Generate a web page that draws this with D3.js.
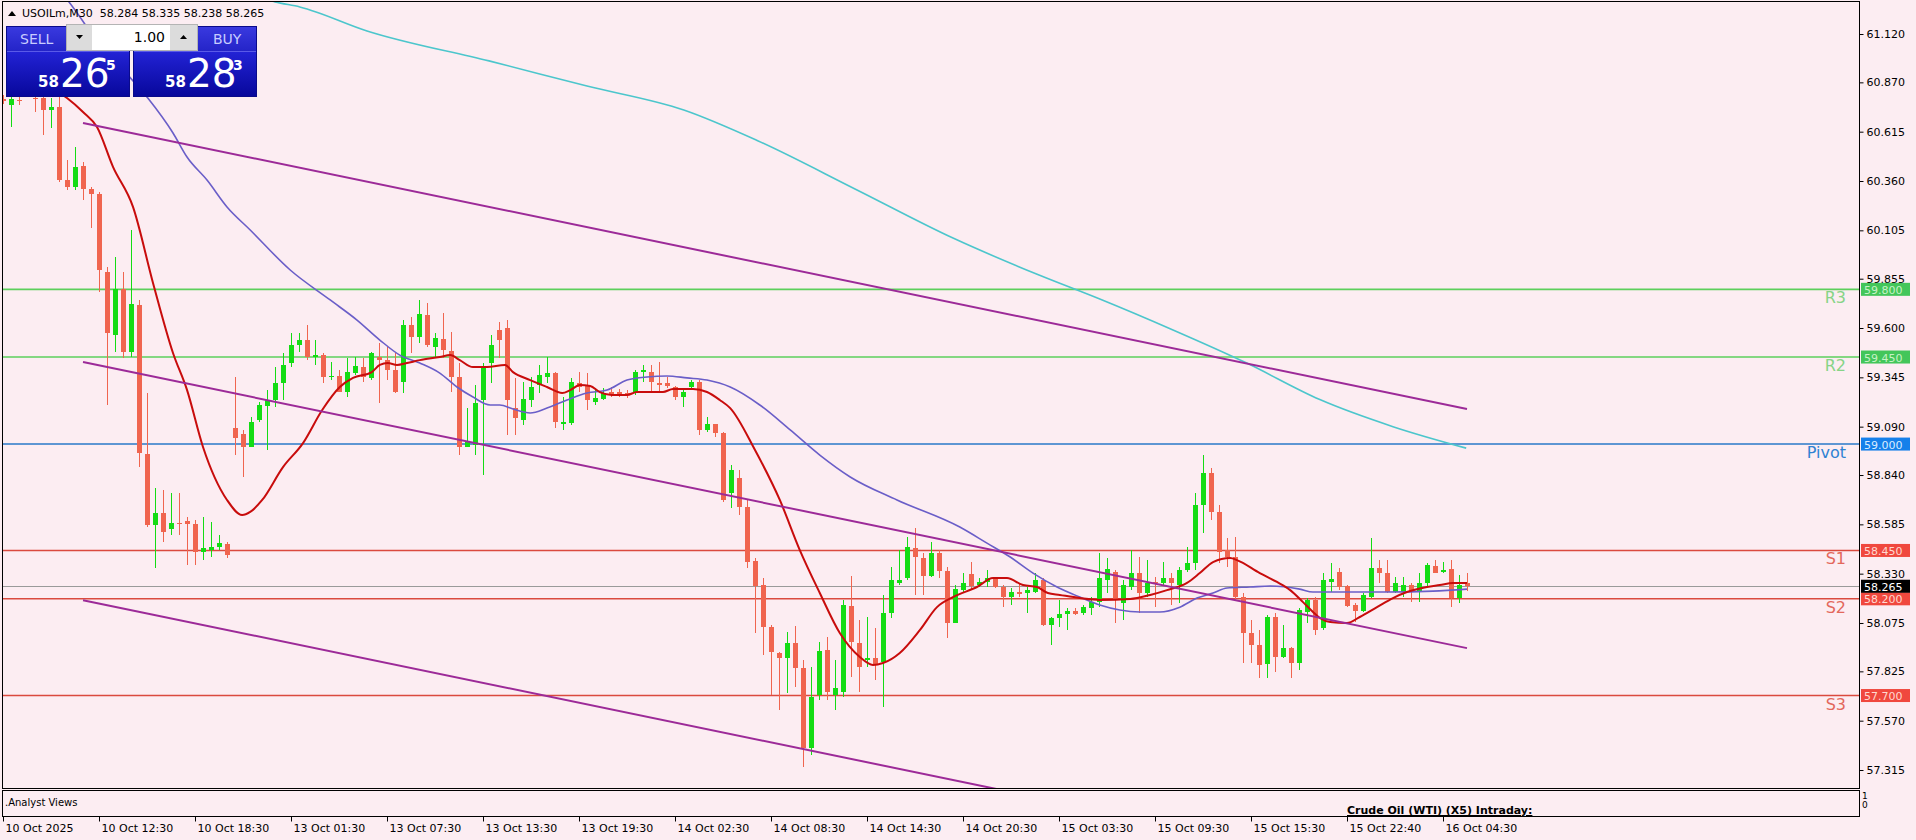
<!DOCTYPE html>
<html><head><meta charset="utf-8">
<script src="https://cdn.jsdelivr.net/npm/d3@7"></script>
<style>
html,body{margin:0;padding:0;background:#fcedf2;overflow:hidden}
svg{display:block}
text{font-family:"DejaVu Sans",sans-serif}
</style></head><body>
<svg id="c" width="1916" height="840"></svg>
<script>
// ---------- DATA ----------
const symbolTitle = "USOILm,M30";
const lastOHLC = ["58.284", "58.335", "58.238", "58.265"];
const opens = [60.784,60.753,60.780,60.810,60.790,60.789,60.727,60.743,60.365,60.329,60.438,60.319,60.293,59.890,59.564,59.802,59.476,59.719,58.949,58.581,
58.644,58.561,58.592,58.602,58.587,58.442,58.452,58.468,58.483,59.083,59.052,58.985,59.124,59.197,59.228,59.316,59.419,59.512,59.538,59.455,
59.460,59.347,59.352,59.269,59.367,59.398,59.342,59.450,59.435,59.383,59.321,59.615,59.553,59.667,59.502,59.543,59.481,59.347,58.985,58.995,
59.228,59.419,59.590,59.600,59.187,59.124,59.228,59.305,59.347,59.367,59.109,59.109,59.316,59.305,59.217,59.233,59.269,59.269,59.264,59.264,
59.372,59.372,59.316,59.316,59.295,59.243,59.295,59.321,59.073,59.104,59.057,58.747,58.825,58.674,58.395,58.271,58.054,57.920,57.894,57.971,
57.842,57.428,57.702,57.935,57.702,57.718,58.163,57.971,57.883,57.894,57.873,58.126,58.282,58.307,58.462,58.411,58.318,58.437,58.344,58.075,
58.245,58.328,58.271,58.287,58.302,58.261,58.209,58.235,58.230,58.235,58.297,58.064,58.101,58.121,58.137,58.126,58.152,58.183,58.297,58.338,
58.178,58.261,58.333,58.230,58.287,58.282,58.307,58.271,58.349,58.385,58.685,58.850,58.649,58.452,58.416,58.209,58.023,57.961,57.863,58.106,
57.899,57.945,57.868,58.132,58.194,58.049,58.287,58.338,58.266,58.168,58.137,58.209,58.359,58.333,58.235,58.235,58.271,58.235,58.282,58.369,
58.338,58.354,58.204,58.284];
const highs = [60.805,60.810,60.795,60.870,60.795,60.805,60.789,60.795,60.469,60.536,60.458,60.329,60.303,59.915,59.967,59.890,60.107,59.745,59.264,58.773,
58.762,58.747,58.747,58.623,58.607,58.623,58.597,58.530,58.494,59.347,59.073,59.140,59.217,59.279,59.398,59.471,59.574,59.574,59.615,59.538,
59.471,59.424,59.383,59.445,59.450,59.445,59.476,59.522,59.502,59.471,59.641,59.657,59.745,59.729,59.574,59.678,59.579,59.419,59.186,59.305,
59.419,59.564,59.631,59.641,59.342,59.321,59.347,59.409,59.450,59.372,59.243,59.342,59.372,59.367,59.290,59.290,59.295,59.285,59.279,59.383,
59.409,59.409,59.424,59.347,59.300,59.279,59.331,59.331,59.140,59.104,59.062,58.892,58.866,58.711,58.411,58.307,58.064,57.925,58.028,58.059,
57.883,57.847,57.977,58.002,57.883,58.194,58.318,58.090,58.106,58.049,58.219,58.364,58.452,58.519,58.566,58.437,58.494,58.452,58.364,58.271,
58.333,58.390,58.307,58.349,58.313,58.271,58.256,58.282,58.261,58.333,58.307,58.106,58.194,58.152,58.152,58.168,58.209,58.437,58.411,58.349,
58.297,58.452,58.416,58.400,58.313,58.390,58.333,58.364,58.468,58.747,58.943,58.876,58.685,58.514,58.519,58.230,58.090,58.038,58.116,58.126,
58.064,57.951,58.152,58.204,58.209,58.333,58.385,58.359,58.271,58.178,58.230,58.514,58.400,58.400,58.313,58.313,58.282,58.333,58.385,58.400,
58.390,58.400,58.323,58.335];
const lows = [60.758,60.639,60.753,60.800,60.717,60.598,60.634,60.355,60.314,60.314,60.262,60.117,59.786,59.202,59.476,59.445,59.450,58.881,58.571,58.359,
58.494,58.530,58.530,58.375,58.375,58.400,58.416,58.452,58.411,58.943,58.830,58.985,59.114,58.969,59.192,59.228,59.398,59.476,59.434,59.409,
59.316,59.331,59.269,59.243,59.357,59.321,59.331,59.212,59.331,59.264,59.264,59.471,59.522,59.502,59.445,59.445,59.269,58.943,58.985,58.943,
58.840,59.316,59.445,59.047,59.047,59.099,59.192,59.264,59.316,59.083,59.073,59.099,59.269,59.176,59.202,59.228,59.243,59.243,59.238,59.254,
59.321,59.269,59.269,59.290,59.228,59.192,59.290,59.047,59.062,59.036,58.700,58.669,58.633,58.359,58.023,57.909,57.702,57.625,57.713,57.744,
57.330,57.392,57.677,57.677,57.625,57.692,57.796,57.718,57.847,57.780,57.640,58.101,58.271,58.297,58.220,58.220,58.312,58.307,57.997,58.075,
58.235,58.245,58.261,58.261,58.256,58.157,58.168,58.209,58.127,58.230,58.059,57.961,58.054,58.038,58.116,58.116,58.116,58.157,58.230,58.075,
58.090,58.245,58.127,58.209,58.157,58.271,58.168,58.178,58.338,58.349,58.540,58.607,58.385,58.364,58.194,57.868,57.868,57.790,57.790,57.821,
57.894,57.790,57.832,58.075,58.013,58.038,58.235,58.245,58.157,58.080,58.132,58.204,58.282,58.230,58.230,58.209,58.183,58.183,58.261,58.333,
58.333,58.157,58.178,58.238];
const closes = [60.774,60.784,60.776,60.850,60.785,60.727,60.743,60.365,60.329,60.433,60.319,60.293,59.900,59.574,59.802,59.476,59.724,58.954,58.581,58.644,
58.545,58.592,58.587,58.587,58.442,58.462,58.468,58.488,58.426,59.031,58.985,59.114,59.202,59.228,59.316,59.409,59.512,59.538,59.450,59.460,
59.347,59.352,59.269,59.372,59.403,59.347,59.471,59.435,59.383,59.269,59.615,59.553,59.672,59.512,59.548,59.486,59.347,58.985,59.011,59.212,
59.393,59.512,59.538,59.228,59.135,59.233,59.295,59.357,59.367,59.114,59.114,59.321,59.295,59.228,59.238,59.264,59.264,59.264,59.261,59.372,
59.383,59.321,59.305,59.300,59.243,59.269,59.321,59.073,59.104,59.057,58.711,58.866,58.674,58.390,58.266,58.054,57.925,57.894,57.971,57.842,
57.428,57.692,57.930,57.718,57.739,58.168,57.977,57.847,57.894,57.858,58.126,58.297,58.297,58.468,58.416,58.318,58.437,58.344,58.075,58.250,
58.282,58.266,58.287,58.307,58.261,58.209,58.235,58.230,58.245,58.297,58.064,58.101,58.121,58.137,58.121,58.157,58.183,58.307,58.354,58.194,
58.271,58.333,58.230,58.282,58.282,58.307,58.282,58.349,58.385,58.685,58.850,58.649,58.442,58.416,58.209,58.023,57.961,57.858,58.106,57.899,
57.945,57.868,58.142,58.194,58.038,58.297,58.302,58.261,58.163,58.137,58.220,58.359,58.333,58.235,58.282,58.271,58.235,58.282,58.375,58.333,
58.349,58.204,58.271,58.265];

const priceTicks = [61.120,60.870,60.615,60.360,60.105,59.855,59.600,59.345,59.090,58.840,58.585,58.330,58.075,57.825,57.570,57.315];
const timeTickBars = [0,12,24,36,48,60,72,84,96,108,120,132,144,156,168,180];
const timeTickLabels = ["10 Oct 2025","10 Oct 12:30","10 Oct 18:30","13 Oct 01:30","13 Oct 07:30","13 Oct 13:30","13 Oct 19:30","14 Oct 02:30","14 Oct 08:30","14 Oct 14:30","14 Oct 20:30","15 Oct 03:30","15 Oct 09:30","15 Oct 15:30","15 Oct 22:40","16 Oct 04:30"];

const levelNames  = ["R3","R2","Pivot","S1","S2","S3"];
const levelValues = [59.800,59.450,59.000,58.450,58.200,57.700];
const levelKinds  = ["r","r","p","s","s","s"];
const currentPrice = 58.265;

// moving averages as [bar, price] points
const maFast = [[4,60.882],[8,60.789],[10,60.717],[11.75,60.639],[13.75,60.433],[16.25,60.226],[18.75,59.833],[21.25,59.471],[23,59.280],[25,58.985],[28,58.711],[29.9,58.633],[30.9,58.649],[32.4,58.711],[35,58.881],[37.5,59.005],[39.9,59.176],[42.1,59.295],[43.75,59.342],[46.1,59.372],[47.1,59.409],[48.1,59.419],[49.25,59.409],[50.5,59.419],[52.1,59.434],[54.6,59.450],[55.9,59.460],[57.1,59.434],[58.75,59.398],[60.5,59.398],[62.75,59.409],[63.75,59.372],[65.9,59.331],[68,59.295],[69.9,59.264],[70.9,59.279],[72.1,59.305],[73.4,59.300],[74.6,59.269],[76.1,59.254],[78,59.254],[79.25,59.269],[82.5,59.269],[83.75,59.285],[86.25,59.285],[88,59.269],[89.6,59.228],[90.9,59.186],[94,58.969],[97.1,58.711],[99.6,58.452],[102.1,58.230],[104.6,58.023],[107.1,57.899],[108.75,57.858],[110,57.868],[112.1,57.920],[114.6,58.038],[116.75,58.157],[118.75,58.209],[121.75,58.261],[123.75,58.307],[125.5,58.307],[127.5,58.271],[129.25,58.261],[130.6,58.230],[132.1,58.220],[134.6,58.204],[137.1,58.194],[140.9,58.199],[143.4,58.220],[145.5,58.245],[148,58.282],[149.6,58.333],[151.25,58.390],[153.4,58.411],[154.25,58.400],[157.1,58.333],[159.25,58.287],[160.9,58.245],[162.5,58.183],[163.75,58.132],[164.6,58.101],[165.9,58.080],[168,58.075],[169.6,58.106],[171.75,58.157],[173.75,58.204],[175.5,58.235],[178,58.261],[179.6,58.271],[181.25,58.282],[183,58.282]];
const maMid = [[7.1,61.348],[9,61.244],[12.1,61.063],[15.25,60.924],[18.1,60.789],[21.25,60.608],[23,60.484],[25.5,60.365],[28,60.226],[30.9,60.107],[35.9,59.900],[40.9,59.745],[44.25,59.641],[47.1,59.538],[49.6,59.460],[52.1,59.419],[54.6,59.367],[56.75,59.295],[58.75,59.243],[60.9,59.202],[62.1,59.202],[63.75,59.181],[65.9,59.161],[68,59.186],[70.5,59.228],[73,59.264],[75.5,59.279],[78,59.331],[80.5,59.347],[83,59.352],[85.5,59.342],[88,59.331],[90.9,59.295],[94.6,59.202],[98.4,59.073],[102.1,58.943],[105.9,58.830],[111.75,58.711],[119.6,58.571],[123,58.488],[125.9,58.416],[128.75,58.333],[131.75,58.261],[134.6,58.209],[137.1,58.168],[139.6,58.142],[142.1,58.132],[144.6,58.132],[147.1,58.157],[149.25,58.204],[151.25,58.230],[153,58.256],[155.9,58.261],[158.4,58.266],[162.1,58.250],[163.75,58.235],[167.1,58.235],[173,58.235],[178.75,58.240],[183,58.250]];
const maSlow = [[30.9,61.327],[34,61.286],[37.1,61.260],[45.5,61.136],[60.75,60.981],[73,60.851],[85.1,60.727],[94.4,60.567],[106.5,60.319],[118.75,60.065],[129.5,59.874],[137.1,59.750],[146.25,59.590],[155.4,59.420],[164.6,59.230],[173.75,59.090],[182.9,58.979]];

// channel trend lines [bar, price]
const trendUpper  = [[10,60.660],[183,59.181]];
const trendMiddle = [[10,59.424],[183,57.945]];
const trendLower  = [[10,58.193],[183,56.714]];

// ---------- LAYOUT ----------
const W = 1916, H = 840;
const plotL = 2, plotR = 1859, plotT = 1, plotB = 788;
const subT = 790, subB = 816;
const bg = "#fcedf2";
const svg = d3.select("#c");
svg.append("rect").attr("width", W).attr("height", H).attr("fill", bg);

const x = d3.scaleLinear().domain([0, 183]).range([3, 1467]);
const y = d3.scaleLinear().domain([57.315, 61.120]).range([770, 34]);

svg.append("defs").append("clipPath").attr("id", "plotclip")
  .append("rect").attr("x", plotL).attr("y", plotT + 1).attr("width", plotR - plotL).attr("height", plotB - plotT - 1);

const plot = svg.append("g").attr("clip-path", "url(#plotclip)");

const levelStyle = {
  r: {line: "#5ccf5c", text: "#86d486", box: "#43c65a", boxText: "#c6f2c6"},
  p: {line: "#2a78c8", text: "#2f82d2", box: "#1580ea", boxText: "#d8ecff"},
  s: {line: "#da4a3e", text: "#e3685c", box: "#f0483e", boxText: "#ffd8d0"}
};

// current price line
plot.append("line").attr("x1", plotL).attr("x2", plotR)
  .attr("y1", Math.round(y(currentPrice)) + 0.5).attr("y2", Math.round(y(currentPrice)) + 0.5)
  .attr("stroke", "#9a9a9a").attr("stroke-width", 1);

// pivot levels
levelValues.forEach((v, i) => {
  const st = levelStyle[levelKinds[i]];
  plot.append("line").attr("x1", plotL).attr("x2", plotR)
    .attr("y1", y(v)).attr("y2", y(v)).attr("stroke", st.line).attr("stroke-width", 1.6);
});

// candles
const bull = "#14dc14", bear = "#f0654f";
const idx = d3.range(opens.length);
const cg = plot.append("g").attr("shape-rendering", "crispEdges");
cg.selectAll("line.w").data(idx).join("line")
  .attr("x1", i => Math.round(x(i)) + 0.5).attr("x2", i => Math.round(x(i)) + 0.5)
  .attr("y1", i => y(highs[i])).attr("y2", i => y(lows[i]))
  .attr("stroke", i => closes[i] >= opens[i] ? bull : bear).attr("stroke-width", 1);
cg.selectAll("rect.b").data(idx).join("rect")
  .attr("x", i => Math.round(x(i)) - 2).attr("width", 5)
  .attr("y", i => y(Math.max(opens[i], closes[i])))
  .attr("height", i => Math.max(1.5, Math.abs(y(opens[i]) - y(closes[i]))))
  .attr("fill", i => closes[i] >= opens[i] ? bull : bear);

// moving averages
const lineGen = d3.line().x(d => x(d[0])).y(d => y(d[1])).curve(d3.curveMonotoneX);
plot.append("path").attr("d", lineGen(maSlow)).attr("fill", "none").attr("stroke", "#4cc6cc").attr("stroke-width", 1.6);
plot.append("path").attr("d", lineGen(maMid)).attr("fill", "none").attr("stroke", "#6a5ec8").attr("stroke-width", 1.6);
plot.append("path").attr("d", lineGen(maFast)).attr("fill", "none").attr("stroke", "#c80c0c").attr("stroke-width", 2);

// trend lines
const straight = d3.line().x(d => x(d[0])).y(d => y(d[1]));
[trendUpper, trendMiddle, trendLower].forEach(t => {
  plot.append("path").attr("d", straight(t)).attr("fill", "none").attr("stroke", "#9c2a98").attr("stroke-width", 2);
});

// level labels inside chart
levelValues.forEach((v, i) => {
  const st = levelStyle[levelKinds[i]];
  svg.append("text").attr("x", 1846).attr("y", y(v) + 14).attr("text-anchor", "end")
    .attr("font-size", 16).attr("fill", st.text).text(levelNames[i]);
});

// frames
svg.append("rect").attr("x", plotL + 0.5).attr("y", plotT + 0.5).attr("width", plotR - plotL).attr("height", plotB - plotT)
  .attr("fill", "none").attr("stroke", "#000").attr("stroke-width", 1);
svg.append("rect").attr("x", plotL + 0.5).attr("y", subT + 0.5).attr("width", plotR - plotL).attr("height", subB - subT)
  .attr("fill", "none").attr("stroke", "#000").attr("stroke-width", 1);

// price axis
const yAxis = d3.axisRight(y).tickValues(priceTicks).tickSize(4).tickFormat(d3.format(".3f"));
const ya = svg.append("g").attr("transform", `translate(${plotR + 0.5},0)`).call(yAxis);
ya.select(".domain").remove();
ya.selectAll("text").attr("font-size", 11).attr("fill", "#000").attr("font-family", "DejaVu Sans");
ya.selectAll("line").attr("stroke", "#000");

// axis boxes for levels and current price
function axisBox(v, fill, tcol, label) {
  const yy = y(v);
  svg.append("rect").attr("x", 1861).attr("y", yy - 6.5).attr("width", 49).attr("height", 13).attr("fill", fill);
  svg.append("text").attr("x", 1864).attr("y", yy + 4.5).attr("font-size", 11).attr("fill", tcol).text(label);
}
levelValues.forEach((v, i) => {
  const st = levelStyle[levelKinds[i]];
  axisBox(v, st.box, st.boxText, d3.format(".3f")(v));
});
axisBox(currentPrice, "#000", "#fff", d3.format(".3f")(currentPrice));

// time axis
const xAxis = d3.axisBottom(x).tickValues(timeTickBars).tickSize(5).tickFormat((d, i) => timeTickLabels[i]);
const xa = svg.append("g").attr("transform", `translate(0,${subB + 0.5})`).call(xAxis);
xa.select(".domain").remove();
xa.selectAll("line").attr("stroke", "#000");
xa.selectAll("text").attr("font-size", 11).attr("fill", "#000").attr("text-anchor", "start")
  .attr("x", 2).attr("y", 6).attr("dy", "0.9em").attr("font-family", "DejaVu Sans");

// sub window texts
svg.append("text").attr("x", 5).attr("y", 806).attr("font-size", 10).attr("fill", "#000").text(".Analyst Views");
svg.append("text").attr("x", 1347).attr("y", 814).attr("font-size", 11).attr("font-weight", "bold")
  .attr("text-decoration", "underline").attr("fill", "#000").text("Crude Oil (WTI) (X5) Intraday:");
svg.append("text").attr("x", 1862).attr("y", 799).attr("font-size", 9).attr("fill", "#000").text("1");
svg.append("text").attr("x", 1862).attr("y", 808).attr("font-size", 9).attr("fill", "#000").text("0");

// header
svg.append("path").attr("d", "M8,16 L12,11 L16,16 Z").attr("fill", "#000");
svg.append("text").attr("x", 22).attr("y", 17).attr("font-size", 11).attr("fill", "#000")
  .attr("xml:space", "preserve").text(symbolTitle + "  " + lastOHLC.join(" "));

// one-click trading panel
const defs = svg.select("defs");
const gBody = defs.append("linearGradient").attr("id", "gbody").attr("x1", 0).attr("y1", 0).attr("x2", 0).attr("y2", 1);
gBody.append("stop").attr("offset", "0%").attr("stop-color", "#2323d6");
gBody.append("stop").attr("offset", "100%").attr("stop-color", "#07079a");
const gHead = defs.append("linearGradient").attr("id", "ghead").attr("x1", 0).attr("y1", 0).attr("x2", 0).attr("y2", 1);
gHead.append("stop").attr("offset", "0%").attr("stop-color", "#3a3ae0");
gHead.append("stop").attr("offset", "100%").attr("stop-color", "#2424c8");

const panel = svg.append("g");
function block(x0, side, big, sup) {
  panel.append("rect").attr("x", x0).attr("y", 26).attr("width", 124).attr("height", 25).attr("fill", "url(#ghead)");
  panel.append("rect").attr("x", x0).attr("y", 51).attr("width", 124).attr("height", 46).attr("fill", "url(#gbody)");
  panel.append("line").attr("x1", x0).attr("x2", x0 + 124).attr("y1", 51.5).attr("y2", 51.5).attr("stroke", "#5a5ae8");
  panel.append("rect").attr("x", x0 + 0.5).attr("y", 26.5).attr("width", 123).attr("height", 70).attr("fill", "none").attr("stroke", "#0a0a8a");
  panel.append("text").attr("x", side === "SELL" ? x0 + 14 : x0 + 80).attr("y", 44).attr("font-size", 14)
    .attr("fill", "#c8ccff").text(side);
  panel.append("text").attr("x", x0 + 32).attr("y", 87).attr("font-size", 15).attr("font-weight", "bold").attr("fill", "#fff").text("58");
  panel.append("text").attr("x", x0 + 54).attr("y", 87).attr("font-size", 39).attr("fill", "#fff").text(big);
  panel.append("text").attr("x", x0 + 100).attr("y", 70).attr("font-size", 14).attr("font-weight", "bold").attr("fill", "#fff").text(sup);
}
block(6, "SELL", "26", "5");
block(133, "BUY", "28", "3");
// lot size input
panel.append("rect").attr("x", 66.5).attr("y", 24.5).attr("width", 131).attr("height", 26).attr("fill", "#dcdcdc").attr("stroke", "#b4b4b4");
panel.append("rect").attr("x", 92).attr("y", 25).attr("width", 78).attr("height", 25).attr("fill", "#fff");
panel.append("text").attr("x", 165).attr("y", 42).attr("font-size", 14).attr("text-anchor", "end").attr("fill", "#000").text("1.00");
panel.append("path").attr("d", "M76,35 L83,35 L79.5,39 Z").attr("fill", "#000");
panel.append("path").attr("d", "M180,39 L187,39 L183.5,35 Z").attr("fill", "#000");
</script>
</body></html>
